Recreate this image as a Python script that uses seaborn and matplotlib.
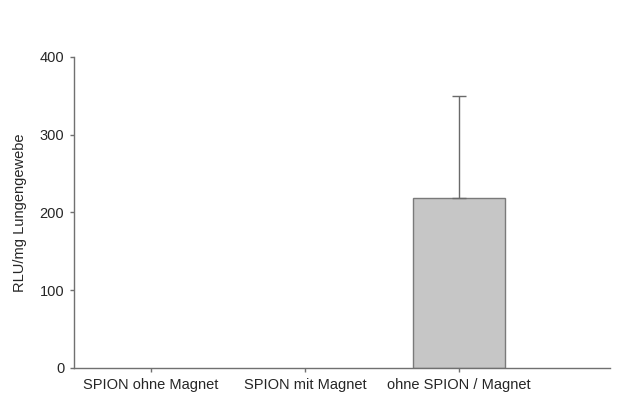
import matplotlib
matplotlib.use('Agg')
import matplotlib.pyplot as plt
import seaborn as sns
import pandas as pd

categories = ['SPION ohne Magnet', 'SPION mit Magnet', 'ohne SPION / Magnet']
values = [0, 0, 219]
errors = [0, 0, 130]

sns.set_style('white')
plt.rcParams['font.family'] = ['Liberation Sans', 'DejaVu Sans']

df = pd.DataFrame({'group': categories, 'rlu': values})

fig = plt.figure(figsize=(6.22, 4.03), dpi=100)
ax = fig.add_axes([0.119, 0.087, 0.862, 0.772])

sns.barplot(data=df, x='group', y='rlu', ax=ax, color='#c6c6c6',
            edgecolor='#7a7a7a', linewidth=1.0, width=0.6, saturation=1, errorbar=None)

# zero-height bars should not leave an edge line on the axis
for patch, v in zip(ax.patches, values):
    if v == 0:
        patch.set_edgecolor('none')

for i, (v, e) in enumerate(zip(values, errors)):
    if e > 0:
        ax.errorbar(i, v, yerr=[[0], [e]], fmt='none', ecolor='#6a6a6a',
                    elinewidth=1.0, capsize=5, capthick=1.0)

ax.set_xlim(-0.5, 2.98)
ax.set_ylim(0, 400)
ax.set_yticks([0, 100, 200, 300, 400])
ax.set_xlabel('')
ax.set_ylabel('RLU/mg Lungengewebe', fontsize=10.5, labelpad=9)
ax.tick_params(axis='both', labelsize=10.5, length=3, width=1, color='#707070',
               direction='out', left=True, bottom=True, pad=4)
for side in ['top', 'right']:
    ax.spines[side].set_visible(False)
for side in ['left', 'bottom']:
    ax.spines[side].set_color('#707070')
    ax.spines[side].set_linewidth(1.0)

fig.savefig('out.png', dpi=100)
